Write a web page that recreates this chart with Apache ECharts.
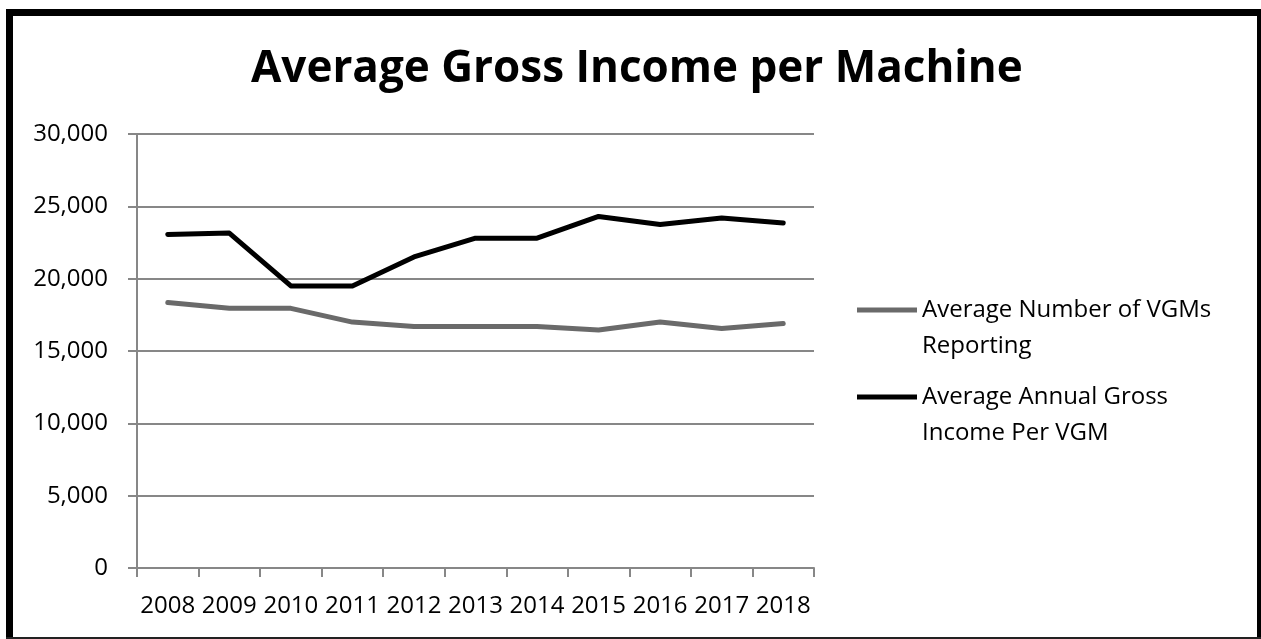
<!DOCTYPE html>
<html>
<head>
<meta charset="utf-8">
<script src="https://cdn.jsdelivr.net/npm/echarts@6/dist/echarts.min.js"></script>
<style>
html,body{margin:0;padding:0;background:#fff;}
#chart{width:1261px;height:639px;}
</style>
</head>
<body>
<div id="chart"></div>
<script>
var years = ['2008','2009','2010','2011','2012','2013','2014','2015','2016','2017','2018'];
var vgmsReporting = [18350, 17950, 17950, 17000, 16700, 16700, 16700, 16450, 17000, 16550, 16900];
var incomePerVgm = [23050, 23150, 19500, 19500, 21500, 22800, 22800, 24300, 23750, 24200, 23850];
var seriesNames = ['Average Number of VGMs Reporting', 'Average Annual Gross Income Per VGM'];
var legendLabels = ['Average Number of VGMs\nReporting', 'Average Annual Gross\nIncome Per VGM'];
var titleText = 'Average Gross Income per Machine';

var FONT = '"Open Sans", "Noto Sans", sans-serif';
var chart = echarts.init(document.getElementById('chart'), null, {renderer: 'canvas'});

function legendFmt(name) {
  // leading blank line keeps the first text line level with the legend icon
  return '\n' + legendLabels[seriesNames.indexOf(name)];
}
var legendText = {fontFamily: FONT, fontSize: 24, color: '#000', lineHeight: 36};

var option = {
  backgroundColor: '#fff',
  animation: false,
  title: {
    text: titleText,
    left: 251,
    top: 47,
    padding: 0,
    textStyle: {fontFamily: FONT, fontWeight: 'bold', fontSize: 44, color: '#000'}
  },
  legend: [
    {data: [seriesNames[0]], left: 857, top: 256, padding: 0, itemWidth: 60, itemHeight: 5, icon: 'rect', formatter: legendFmt, textStyle: legendText, selectedMode: false},
    {data: [seriesNames[1]], left: 857, top: 343, padding: 0, itemWidth: 60, itemHeight: 5, icon: 'rect', formatter: legendFmt, textStyle: legendText, selectedMode: false}
  ],
  grid: {left: 137, right: 447, top: 134, bottom: 71, containLabel: false},
  xAxis: {
    type: 'category',
    data: years,
    boundaryGap: true,
    axisLine: {lineStyle: {color: '#878787', width: 2}},
    axisTick: {show: true, length: 9, interval: 0, lineStyle: {color: '#878787', width: 2}},
    axisLabel: {interval: 0, margin: 26, fontFamily: FONT, fontSize: 24, color: '#000'}
  },
  yAxis: {
    type: 'value',
    min: 0, max: 30000, interval: 5000,
    axisLine: {show: true, lineStyle: {color: '#878787', width: 2}},
    axisTick: {show: true, length: 9, lineStyle: {color: '#878787', width: 2}},
    splitLine: {show: true, lineStyle: {color: '#878787', width: 2}},
    axisLabel: {margin: 29, fontFamily: FONT, fontSize: 24, color: '#000',
      formatter: function (v) { return v.toLocaleString('en-US'); }}
  },
  series: [
    {name: seriesNames[0], type: 'line', data: vgmsReporting, symbol: 'none',
      itemStyle: {color: '#6a6a6a'},
      lineStyle: {color: '#6a6a6a', width: 5, cap: 'round', join: 'round'}},
    {name: seriesNames[1], type: 'line', data: incomePerVgm, symbol: 'none',
      itemStyle: {color: '#000'},
      lineStyle: {color: '#000', width: 5, cap: 'round', join: 'round'}}
  ],
  graphic: [
    {type: 'rect', shape: {x: 6, y: 9, width: 1255, height: 7}, style: {fill: '#000'}, silent: true},
    {type: 'rect', shape: {x: 6, y: 9, width: 7, height: 630}, style: {fill: '#000'}, silent: true},
    {type: 'rect', shape: {x: 1257, y: 9, width: 4, height: 630}, style: {fill: '#000'}, silent: true},
    {type: 'rect', shape: {x: 6, y: 637, width: 1255, height: 2}, style: {fill: '#222'}, silent: true}
  ]
};
chart.setOption(option);
</script>
</body>
</html>
